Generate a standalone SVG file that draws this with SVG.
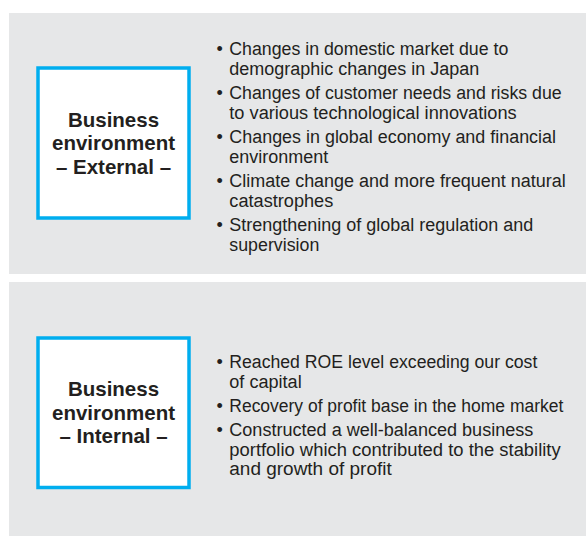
<svg xmlns="http://www.w3.org/2000/svg" width="586" height="536" viewBox="0 0 586 536">
<style>
.panel{fill:#e6e7e8}
.box{fill:#ffffff;stroke:#00aeef;stroke-width:3.5}
.lbl{font-family:"Liberation Sans",Arial,sans-serif;font-weight:bold;font-size:20.5px;fill:#231f20;text-anchor:middle}
.item{font-family:"Liberation Sans",Arial,sans-serif;font-size:18px;fill:#231f20}
</style>
<rect width="586" height="536" fill="#ffffff"/>
<g id="panel-external">
<rect class="panel" x="9" y="13" width="577" height="261"/>
<g id="node-external">
<rect class="box" x="38" y="68" width="151" height="150"/>
<text class="lbl" x="113.5" y="126.5">Business</text>
<text class="lbl" x="113.5" y="150">environment</text>
<text class="lbl" x="113.5" y="173.5">– External –</text>
</g>
<g id="list-external" class="item">
<text x="216.5" y="55">•</text>
<text x="229.3" y="55" textLength="279" lengthAdjust="spacingAndGlyphs">Changes in domestic market due to</text>
<text x="229.3" y="74.5" textLength="250" lengthAdjust="spacingAndGlyphs">demographic changes in Japan</text>
<text x="216.5" y="99">•</text>
<text x="229.3" y="99" textLength="332.4" lengthAdjust="spacingAndGlyphs">Changes of customer needs and risks due</text>
<text x="229.3" y="118.5" textLength="287.4" lengthAdjust="spacingAndGlyphs">to various technological innovations</text>
<text x="216.5" y="143">•</text>
<text x="229.3" y="143" textLength="326.7" lengthAdjust="spacingAndGlyphs">Changes in global economy and financial</text>
<text x="229.3" y="162.5" textLength="99" lengthAdjust="spacingAndGlyphs">environment</text>
<text x="216.5" y="187">•</text>
<text x="229.3" y="187" textLength="336.4" lengthAdjust="spacingAndGlyphs">Climate change and more frequent natural</text>
<text x="229.3" y="206.5" textLength="104" lengthAdjust="spacingAndGlyphs">catastrophes</text>
<text x="216.5" y="231">•</text>
<text x="229.3" y="231" textLength="304" lengthAdjust="spacingAndGlyphs">Strengthening of global regulation and</text>
<text x="229.3" y="250.5" textLength="90" lengthAdjust="spacingAndGlyphs">supervision</text>
</g>
</g>
<g id="panel-internal">
<rect class="panel" x="9" y="282" width="577" height="254"/>
<g id="node-internal">
<rect class="box" x="38" y="338" width="151" height="149.5"/>
<text class="lbl" x="113.5" y="396">Business</text>
<text class="lbl" x="113.5" y="419.5">environment</text>
<text class="lbl" x="113.5" y="443">– Internal –</text>
</g>
<g id="list-internal" class="item">
<text x="216.5" y="368">•</text>
<text x="229.3" y="368" textLength="308" lengthAdjust="spacingAndGlyphs">Reached ROE level exceeding our cost</text>
<text x="229.3" y="387.5" textLength="72.4" lengthAdjust="spacingAndGlyphs">of capital</text>
<text x="216.5" y="412">•</text>
<text x="229.3" y="412" textLength="334" lengthAdjust="spacingAndGlyphs">Recovery of profit base in the home market</text>
<text x="216.5" y="436">•</text>
<text x="229.3" y="436" textLength="304" lengthAdjust="spacingAndGlyphs">Constructed a well-balanced business</text>
<text x="229.3" y="455.5" textLength="331.4" lengthAdjust="spacingAndGlyphs">portfolio which contributed to the stability</text>
<text x="229.3" y="475" textLength="162.4" lengthAdjust="spacingAndGlyphs">and growth of profit</text>
</g>
</g>
<g id="connectors"/>
</svg>
